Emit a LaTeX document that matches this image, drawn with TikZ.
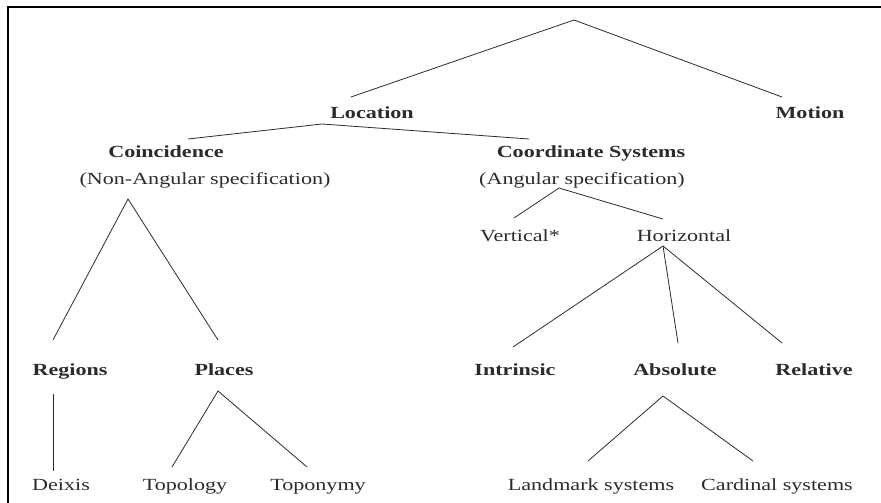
\documentclass[tikz,border=0pt]{standalone}
\usepackage{fontspec}
\setmainfont{Liberation Serif}[FakeStretch=1.3]
\usetikzlibrary{positioning}
\definecolor{ink}{HTML}{2B2B2B}
\tikzset{
  cat/.style={anchor=base, inner sep=0pt, outer sep=0pt, text height=12pt, text depth=4pt,
    text=ink, font=\fontsize{17}{20}\selectfont\bfseries},
  leaf/.style={cat, font=\fontsize{17}{20}\selectfont},
  branch/.style={draw=ink, line width=0.8pt}}

\begin{document}
\begin{tikzpicture}[x=1pt, y=-1pt]
      \useasboundingbox (0,0) rectangle (881,503);
      \draw[line width=2pt] (8,503) -- (8,7) -- (881,7);
      % categories
      \node[cat]  (loc)    at (372,118) {Location};
      \node[cat]  (mot)    at (810,118) {Motion};
      \node[cat]  (coin)   at (166,157) {Coincidence};
      \node[leaf] (nonang) at (205,184) {(Non-Angular specification)};
      \node[cat]  (coord)  at (591,157) {Coordinate Systems};
      \node[leaf] (ang)    at (582,184) {(Angular specification)};
      \node[leaf] (vert)   at (520,241) {Vertical*};
      \node[leaf] (hor)    at (684,241) {Horizontal};
      \node[cat]  (reg)    at (70,375)  {Regions};
      \node[cat]  (pla)    at (224,375) {Places};
      \node[cat]  (intr)   at (515,375) {Intrinsic};
      \node[cat]  (abs)    at (675,375) {Absolute};
      \node[cat]  (rel)    at (814,375) {Relative};
      \node[leaf] (deix)   at (61,490)  {Deixis};
      \node[leaf] (topo)   at (185,490) {Topology};
      \node[leaf] (topn)   at (318,490) {Toponymy};
      \node[leaf] (land)   at (591,490) {Landmark systems};
      \node[leaf] (card)   at (777,490) {Cardinal systems};
      % fork points
      \coordinate (root)    at (574,20);
      \coordinate (locfork) at ([xshift=-50pt,yshift=-2pt]loc.south);
      \coordinate (nafork)  at ([xshift=-77pt,yshift=-11pt]nonang.south);
      \coordinate (regfork) at ([xshift=-17pt,yshift=-15pt]reg.south);
      \coordinate (plafork) at ([xshift=-6pt,yshift=-12pt]pla.south);
      \coordinate (angfork) at ([xshift=-23pt]ang.south);
      \coordinate (horfork) at ([xshift=-21pt,yshift=-1pt]hor.south);
      \coordinate (absfork) at ([xshift=-12pt,yshift=-17pt]abs.south);
      % branches
      \draw[branch] ([xshift=-21pt,yshift=9pt]loc.north) -- (root) -- ([xshift=-28pt,yshift=9pt]mot.north);
      \draw[branch] ([xshift=22pt,yshift=6pt]coin.north) -- (locfork) -- ([xshift=-62pt,yshift=6pt]coord.north);
      \draw[branch] ([xshift=-17pt,yshift=23pt]reg.north) -- (nafork) -- ([xshift=-6pt,yshift=23pt]pla.north);
      \draw[branch] (regfork) -- ([xshift=-8pt,yshift=7pt]deix.north);
      \draw[branch] ([xshift=-13pt,yshift=11pt]topo.north) -- (plafork) -- ([xshift=-11pt,yshift=11pt]topn.north);
      \draw[branch] ([xshift=-6pt,yshift=11pt]vert.north) -- (angfork) -- ([xshift=-21pt,yshift=10pt]hor.north);
      \draw[branch] ([xshift=-2pt,yshift=16pt]intr.north) -- (horfork) -- ([xshift=-32pt,yshift=20pt]rel.north);
      \draw[branch] (horfork) -- ([xshift=3pt,yshift=20pt]abs.north);
      \draw[branch] ([xshift=-3pt,yshift=17pt]land.north) -- (absfork) -- ([xshift=-24pt,yshift=17pt]card.north);
\end{tikzpicture}
\end{document}
